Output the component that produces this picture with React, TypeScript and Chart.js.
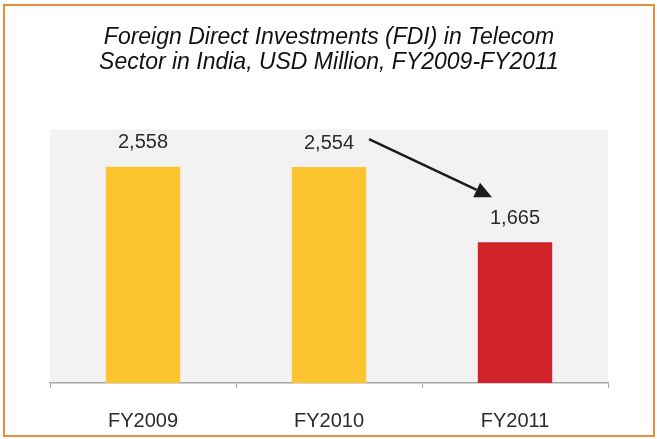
import React, { useEffect, useRef } from "react";
import { Chart, registerables } from "chart.js";

Chart.register(...registerables);

const categories = ["FY2009", "FY2010", "FY2011"];
const fdiValues = [2558, 2554, 1665];
const barColors = ["#FCC42F", "#FCC42F", "#D2232A"];
const titleLines = [
  "Foreign Direct Investments (FDI) in Telecom",
  "Sector in India, USD Million, FY2009-FY2011",
];
const yMax = 3000;

const FONT = "Arial, 'Liberation Sans', sans-serif";

const plotBg = {
  id: "plotBg",
  beforeDraw(chart: any) {
    const { ctx, chartArea } = chart;
    ctx.save();
    ctx.fillStyle = "#F2F2F2";
    ctx.fillRect(chartArea.left, chartArea.top, chartArea.right - chartArea.left, chartArea.bottom - chartArea.top);
    ctx.restore();
  },
};

const labelsAndArrow = {
  id: "labelsAndArrow",
  afterDatasetsDraw(chart: any) {
    const { ctx } = chart;
    const meta = chart.getDatasetMeta(0);
    ctx.save();
    ctx.font = `20px ${FONT}`;
    ctx.fillStyle = "#2b2b2b";
    ctx.textAlign = "center";
    ctx.textBaseline = "middle";
    meta.data.forEach((bar: any, i: number) => {
      ctx.fillText(fdiValues[i].toLocaleString("en-US"), bar.x, bar.y - 24);
    });
    // arrow from FY2010 to FY2011
    const xs = chart.scales.x;
    const ys = chart.scales.y;
    const sx = xs.getPixelForValue(1) + 40;
    const sy = ys.getPixelForValue(fdiValues[1]) - 28;
    const ex = xs.getPixelForValue(2) - 23;
    const ey = ys.getPixelForValue(fdiValues[2]) - 45;
    const ang = Math.atan2(ey - sy, ex - sx);
    const headLen = 17;
    const headHalf = 8;
    const bx = ex - headLen * Math.cos(ang);
    const by = ey - headLen * Math.sin(ang);
    ctx.strokeStyle = "#1a1a1a";
    ctx.fillStyle = "#1a1a1a";
    ctx.lineWidth = 2.5;
    ctx.beginPath();
    ctx.moveTo(sx, sy);
    ctx.lineTo(bx, by);
    ctx.stroke();
    ctx.beginPath();
    ctx.moveTo(ex, ey);
    ctx.lineTo(bx + headHalf * Math.sin(ang), by - headHalf * Math.cos(ang));
    ctx.lineTo(bx - headHalf * Math.sin(ang), by + headHalf * Math.cos(ang));
    ctx.closePath();
    ctx.fill();
    ctx.restore();
  },
};

export default function App() {
  const ref = useRef<HTMLCanvasElement>(null);
  useEffect(() => {
    if (!ref.current) return;
    const chart = new Chart(ref.current, {
      type: "bar",
      data: {
        labels: categories,
        datasets: [
          {
            data: fdiValues,
            backgroundColor: barColors,
            borderWidth: 0,
            barPercentage: 0.4,
            categoryPercentage: 1,
          },
        ],
      },
      options: {
        animation: false,
        responsive: false,
        maintainAspectRatio: false,
        layout: { padding: { left: 50, right: 49, top: 0, bottom: -15 } },
        plugins: {
          legend: { display: false },
          tooltip: { enabled: false },
          title: {
            display: true,
            text: titleLines,
            color: "#111",
            font: { family: FONT, size: 23, style: "italic", weight: "normal", lineHeight: 1.05 },
            padding: { top: 26, bottom: 55 },
          },
        },
        scales: {
          y: { display: false, min: 0, max: yMax },
          x: {
            grid: {
              offset: true,
              drawOnChartArea: false,
              drawTicks: true,
              tickLength: 5,
              color: "#A6A6A6",
            },
            border: { display: true, color: "#A6A6A6", width: 1.5 },
            ticks: { color: "#2b2b2b", font: { family: FONT, size: 20 }, padding: 21 },
          },
        },
      },
      plugins: [plotBg, labelsAndArrow],
    });
    return () => chart.destroy();
  }, []);
  return (
    <div style={{ position: "fixed", left: 0, top: 0, width: 657, height: 439, background: "#fff" }}>
      <div
        style={{
          position: "absolute",
          left: 3,
          top: 4,
          width: 652,
          height: 433,
          border: "2px solid #E98E36",
          boxSizing: "border-box",
        }}
      />
      <canvas ref={ref} width={657} height={439} style={{ position: "absolute", left: 0, top: 0 }} />
    </div>
  );
}
